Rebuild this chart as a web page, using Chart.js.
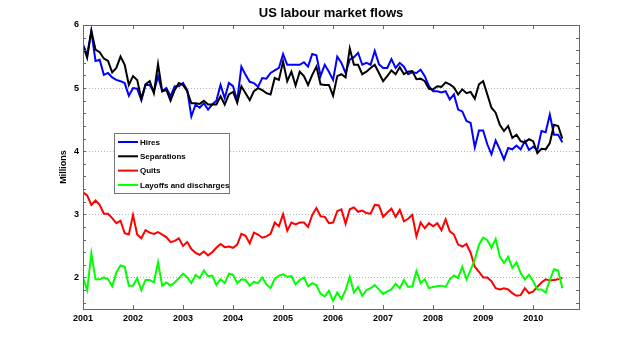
<!DOCTYPE html>
<html>
<head>
<meta charset="utf-8">
<title>US labour market flows</title>
<script src="https://cdn.jsdelivr.net/npm/chart.js@4/dist/chart.umd.min.js"></script>
<style>
  html, body { margin: 0; padding: 0; background: #fff; }
  #wrap { width: 640px; height: 348px; position: relative; }
</style>
</head>
<body>
<div id="wrap"><canvas id="flows" width="640" height="348"></canvas></div>
<script>
// monthly JOLTS flows, millions, Jan 2001 .. Aug 2010
const startYear = 2001;
const yearTicks = [2001, 2002, 2003, 2004, 2005, 2006, 2007, 2008, 2009, 2010];
const valueTicks = [2, 3, 4, 5, 6];

const hires = [
  5.69, 5.53, 5.90, 5.43, 5.45, 5.21, 5.24, 5.17, 5.13, 5.11, 5.08, 4.88,
  5.00, 4.99, 4.81, 5.05, 5.05, 4.94, 5.19, 4.95, 5.00, 4.87, 5.03, 5.03,
  5.08, 4.97, 4.55, 4.74, 4.69, 4.76, 4.66, 4.74, 4.80, 5.05, 4.84, 5.08,
  5.03, 4.80, 5.34, 5.21, 5.10, 5.08, 5.02, 5.16, 5.15, 5.24, 5.28, 5.32,
  5.54, 5.37, 5.37, 5.37, 5.37, 5.41, 5.34, 5.54, 5.52, 5.19, 5.37, 5.26,
  5.13, 5.50, 5.40, 5.24, 5.45, 5.49, 5.56, 5.37, 5.40, 5.37, 5.59, 5.38,
  5.32, 5.32, 5.46, 5.32, 5.40, 5.34, 5.22, 5.25, 5.24, 5.29, 5.19, 5.03,
  4.95, 4.95, 4.93, 4.95, 4.82, 4.90, 4.66, 4.63, 4.48, 4.45, 4.06, 4.33,
  4.33, 4.11, 3.95, 4.17, 4.03, 3.87, 4.05, 4.03, 4.09, 4.03, 4.16, 4.02,
  4.07, 4.02, 4.32, 4.30, 4.58, 4.26, 4.26, 4.14
];

const separations = [
  5.68, 5.48, 5.91, 5.61, 5.57, 5.47, 5.43, 5.25, 5.32, 5.50, 5.37, 5.05,
  5.19, 5.13, 4.83, 5.06, 5.11, 4.92, 5.38, 4.95, 4.97, 4.80, 4.97, 5.08,
  5.05, 4.95, 4.76, 4.76, 4.75, 4.80, 4.74, 4.74, 4.74, 4.87, 4.74, 4.90,
  4.94, 4.77, 5.03, 4.92, 4.81, 4.95, 5.00, 4.97, 4.92, 4.90, 5.16, 5.13,
  5.42, 5.11, 5.26, 5.04, 5.26, 5.19, 5.05, 5.21, 5.34, 5.06, 5.05, 5.05,
  4.88, 5.19, 5.22, 5.17, 5.63, 5.37, 5.37, 5.22, 5.26, 5.32, 5.37, 5.24,
  5.11, 5.19, 5.28, 5.22, 5.33, 5.22, 5.26, 5.27, 5.14, 5.15, 5.11, 4.99,
  4.98, 5.03, 5.02, 5.09, 5.06, 5.01, 4.90, 4.98, 4.92, 4.94, 4.83, 5.06,
  5.11, 4.90, 4.69, 4.61, 4.42, 4.32, 4.40, 4.21, 4.26, 4.16, 4.14, 4.19,
  4.16, 3.97, 4.04, 4.03, 4.13, 4.42, 4.40, 4.20
];

const quits = [
  3.35, 3.30, 3.15, 3.22, 3.15, 3.01, 3.01, 2.94, 2.86, 2.90, 2.70, 2.68,
  2.99, 2.68, 2.62, 2.75, 2.71, 2.69, 2.72, 2.68, 2.64, 2.56, 2.58, 2.62,
  2.50, 2.56, 2.45, 2.39, 2.36, 2.41, 2.35, 2.40, 2.47, 2.53, 2.48, 2.49,
  2.47, 2.52, 2.69, 2.66, 2.54, 2.71, 2.68, 2.63, 2.65, 2.69, 2.87, 2.81,
  3.00, 2.74, 2.87, 2.84, 2.87, 2.87, 2.80, 2.99, 3.10, 2.97, 2.96, 2.86,
  2.87, 3.05, 3.08, 2.85, 3.08, 3.11, 3.04, 3.06, 3.02, 3.01, 3.15, 3.14,
  2.96, 3.03, 3.09, 2.96, 3.07, 2.89, 2.93, 2.99, 2.65, 2.87, 2.78, 2.86,
  2.81, 2.86, 2.75, 2.92, 2.73, 2.68, 2.52, 2.49, 2.53, 2.39, 2.17, 2.09,
  2.00, 2.00, 1.94, 1.83, 1.81, 1.83, 1.81, 1.75, 1.71, 1.72, 1.83, 1.75,
  1.78, 1.85, 1.92, 1.97, 1.95, 1.96, 1.97, 1.99
];

const layoffs = [
  2.00, 1.80, 2.38, 1.97, 1.97, 2.00, 1.97, 1.86, 2.08, 2.19, 2.17, 1.87,
  1.87, 1.99, 1.80, 1.96, 1.96, 1.92, 2.24, 1.87, 1.92, 1.87, 1.92, 1.99,
  2.06, 2.00, 1.91, 2.04, 1.99, 2.11, 2.02, 2.03, 1.88, 1.97, 1.91, 2.06,
  2.04, 1.91, 1.97, 1.96, 1.87, 1.93, 1.91, 2.00, 1.89, 1.83, 1.98, 2.03,
  2.05, 2.01, 2.02, 1.89, 1.96, 2.00, 1.86, 1.91, 1.88, 1.74, 1.70, 1.79,
  1.63, 1.76, 1.66, 1.80, 2.01, 1.76, 1.85, 1.71, 1.80, 1.83, 1.88, 1.81,
  1.74, 1.78, 1.81, 1.90, 1.83, 1.96, 1.85, 1.86, 2.10, 1.91, 1.97, 1.83,
  1.85, 1.86, 1.87, 1.85, 1.97, 2.03, 1.99, 2.17, 1.97, 2.12, 2.28, 2.52,
  2.63, 2.59, 2.47, 2.61, 2.33, 2.23, 2.33, 2.15, 2.24, 2.07, 1.97, 2.04,
  1.94, 1.81, 1.81, 1.76, 1.96, 2.13, 2.11, 1.83
];

const seriesNames = ['Hires', 'Separations', 'Quits', 'Layoffs and discharges'];
const seriesColors = ['#0000ff', '#000000', '#ff0000', '#00ff00'];
const seriesData = [hires, separations, quits, layoffs];

function toPoints(values) {
  return values.map((v, i) => ({ x: startYear + i / 12, y: v }));
}

const axisColor = '#666';
const labelFont = '"Liberation Sans", Arial, sans-serif';

// box, inward ticks, title, y label and the legend panel
const frame = {
  id: 'frame',
  afterDraw(chart) {
    const { ctx, chartArea: a, scales } = chart;
    const xs = scales.x, ys = scales.y;
    ctx.save();
    ctx.strokeStyle = axisColor;
    ctx.lineWidth = 1;
    ctx.strokeRect(Math.round(a.left) + 0.5, Math.round(a.top) + 0.5,
      Math.round(a.right - a.left), Math.round(a.bottom - a.top));

    ctx.beginPath();
    yearTicks.forEach(t => {
      const px = Math.round(xs.getPixelForValue(t)) + 0.5;
      ctx.moveTo(px, a.bottom); ctx.lineTo(px, a.bottom - 4);
      ctx.moveTo(px, a.top); ctx.lineTo(px, a.top + 4);
    });
    for (let k = 8; k <= 30; k++) {
      const py = Math.round(ys.getPixelForValue(k / 5)) + 0.5;
      ctx.moveTo(a.left, py); ctx.lineTo(a.left + 3, py);
      ctx.moveTo(a.right, py); ctx.lineTo(a.right - 3, py);
    }
    ctx.stroke();

    ctx.fillStyle = '#000';
    ctx.font = 'bold 13px ' + labelFont;
    ctx.textAlign = 'center';
    ctx.textBaseline = 'middle';
    ctx.fillText('US labour market flows', (a.left + a.right) / 2, 13);

    ctx.save();
    ctx.translate(64, (a.top + a.bottom) / 2);
    ctx.rotate(-Math.PI / 2);
    ctx.font = 'bold 9px ' + labelFont;
    ctx.fillText('Millions', 0, 0);
    ctx.restore();

    // legend
    const lx = 114, ly = 133, lw = 115, lh = 60;
    ctx.fillStyle = '#fff';
    ctx.fillRect(lx, ly, lw, lh);
    ctx.strokeStyle = '#777';
    ctx.strokeRect(lx + 0.5, ly + 0.5, lw, lh);
    ctx.font = 'bold 8px ' + labelFont;
    ctx.textAlign = 'left';
    chart.data.datasets.forEach((ds, i) => {
      const ry = ly + 9 + i * 14.3;
      ctx.strokeStyle = ds.borderColor;
      ctx.lineWidth = 2;
      ctx.beginPath();
      ctx.moveTo(lx + 4, ry); ctx.lineTo(lx + 24, ry);
      ctx.stroke();
      ctx.fillStyle = '#000';
      ctx.fillText(ds.label, lx + 26, ry + 0.5);
    });
    ctx.restore();
  }
};

new Chart(document.getElementById('flows'), {
  type: 'line',
  data: {
    datasets: seriesData.map((vals, i) => ({
      label: seriesNames[i],
      data: toPoints(vals),
      borderColor: seriesColors[i],
      backgroundColor: seriesColors[i],
      borderWidth: 2,
      pointRadius: 0,
      tension: 0,
      order: seriesData.length - i
    }))
  },
  options: {
    responsive: false,
    animation: false,
    devicePixelRatio: 1,
    layout: { padding: { top: 25, right: 61, left: 0, bottom: 0 } },
    plugins: { legend: { display: false }, tooltip: { enabled: false }, title: { display: false } },
    scales: {
      x: {
        type: 'linear',
        min: 2001,
        max: 2010 + 11 / 12,
        afterFit(s) { s.height = 39; },
        afterBuildTicks(s) { s.ticks = yearTicks.map(v => ({ value: v })); },
        grid: { display: false, drawTicks: false },
        border: { display: false },
        ticks: {
          color: '#000',
          padding: 4,
          maxRotation: 0,
          autoSkip: false,
          font: { family: labelFont, size: 9, weight: 'bold' },
          callback: v => String(v)
        }
      },
      y: {
        min: 1.5,
        max: 6,
        afterFit(s) { s.width = 83; },
        afterBuildTicks(s) { s.ticks = valueTicks.map(v => ({ value: v })); },
        grid: {
          drawTicks: false,
          color: c => (c.tick && c.tick.value === 6 ? 'rgba(0,0,0,0)' : '#b4b4b4'),
          lineWidth: 1
        },
        border: { display: false, dash: [1, 2] },
        ticks: {
          color: '#000',
          padding: 4,
          font: { family: labelFont, size: 9, weight: 'bold' },
          callback: v => String(v)
        }
      }
    }
  },
  plugins: [frame]
});
</script>
</body>
</html>
